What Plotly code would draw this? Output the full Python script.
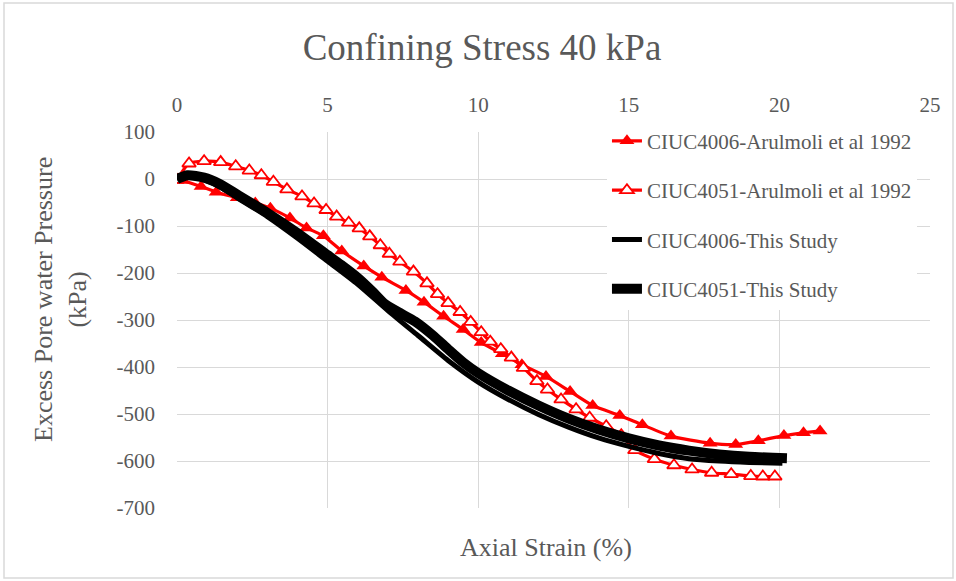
import plotly.graph_objects as go

# CIUC4006 - Arulmoli et al 1992 (filled triangles)
a4006_strain = [0.2, 0.8, 1.3, 2.0, 2.6, 3.1, 3.75, 4.3, 4.86, 5.47, 6.2, 6.8, 7.6, 8.2,
                8.85, 9.5, 10.1, 10.8, 11.45, 12.25, 13.05, 13.8, 14.7, 15.45, 16.4,
                17.7, 18.55, 19.3, 20.15, 20.8, 21.35]
a4006_pwp = [-3, -16, -28, -40, -51, -62, -83, -104, -121, -153, -185, -209, -237, -262,
             -292, -320, -348, -372, -395, -420, -452, -482, -503, -523, -547,
             -562, -565, -557, -546, -540, -536]

# CIUC4051 - Arulmoli et al 1992 (open triangles)
a4051_strain = [0.0, 0.4, 0.9, 1.45, 1.95, 2.4, 2.8, 3.2, 3.65, 4.15, 4.55, 4.95, 5.3, 5.7,
                6.05, 6.4, 6.75, 7.05, 7.4, 7.85, 8.3, 8.65, 9.0, 9.4, 9.75, 10.1, 10.4,
                10.75, 11.1, 11.5, 11.95, 12.3, 12.75, 13.25, 13.7, 14.25, 14.75, 15.2,
                15.85, 16.5, 17.1, 17.75, 18.4, 19.05, 19.45, 19.85]
a4051_pwp = [-2, 33, 38, 36, 27, 18, 8, -6, -22, -37, -52, -66, -80, -93,
             -105, -122, -141, -159, -176, -197, -222, -245, -264, -283, -304, -326, -346,
             -362, -380, -402, -430, -448, -469, -490, -508, -526, -545, -577,
             -596, -609, -618, -625, -628, -632, -633, -633]

# CIUC4006 - this study
s4006_strain = [0.0, 0.35, 0.9, 1.4, 2.0, 3.0, 4.0, 5.0, 6.0, 7.0, 8.0, 9.0, 10.0, 11.0,
                12.0, 13.0, 14.0, 15.0, 16.0, 17.0, 18.0, 19.0, 20.1]
s4006_pwp = [0, 5, -2, -16, -40, -80, -126, -175, -224, -280, -333, -386, -432, -469,
             -501, -528, -551, -569, -584, -595, -600, -603, -605]

# CIUC4051 - this study
s4051_strain = [0.0, 0.35, 0.9, 1.4, 2.0, 3.0, 4.0, 5.0, 5.5, 6.0, 6.5, 6.9, 7.4, 7.9,
                8.5, 9.0, 9.5, 10.0, 11.0, 12.0, 13.0, 14.0, 15.0, 16.0, 17.0, 18.0, 19.0,
                20.25]
s4051_pwp = [0, 8, 3, -10, -33, -72, -115, -162, -185, -210, -240, -266, -285, -303,
             -333, -362, -390, -413, -450, -482, -510, -533, -552, -567, -578, -586, -591,
             -594]

x_ticks = [0, 5, 10, 15, 20, 25]
y_ticks = [100, 0, -100, -200, -300, -400, -500, -600, -700]
y_tick_text = ["100", "0", "-100", "-200", "-300", "-400", "-500", "-600", "-700"]

FONT = "Liberation Serif"
TXT = "#595959"
GRID = "#d9d9d9"
RED = "#ff0000"

fig = go.Figure()

fig.add_trace(go.Scatter(
    x=a4006_strain, y=a4006_pwp, mode="lines+markers",
    name="CIUC4006-Arulmoli et al 1992", legendgroup="g1",
    line=dict(color=RED, width=3.2, shape="spline", smoothing=0.6),
    marker=dict(symbol="triangle-up", size=13, color=RED),
))
fig.add_trace(go.Scatter(
    x=a4051_strain, y=a4051_pwp, mode="lines+markers",
    name="CIUC4051-Arulmoli et al 1992", legendgroup="g2",
    line=dict(color=RED, width=3.2, shape="spline", smoothing=0.6),
    marker=dict(symbol="triangle-up", size=12, color="white",
                line=dict(color=RED, width=1.8)),
))
fig.add_trace(go.Scatter(
    x=s4006_strain, y=s4006_pwp, mode="lines",
    name="CIUC4006-This Study", legendgroup="g3",
    line=dict(color="black", width=5, shape="spline", smoothing=0.7),
))
fig.add_trace(go.Scatter(
    x=s4051_strain, y=s4051_pwp, mode="lines",
    name="CIUC4051-This Study", legendgroup="g4",
    line=dict(color="black", width=10, shape="spline", smoothing=0.6),
))

# plot area: x 177..930 px, y 132..508 px
fig.update_layout(
    width=956, height=581,
    margin=dict(l=177, r=26, t=132, b=73),
    paper_bgcolor="white", plot_bgcolor="white",
    font=dict(family=FONT, color=TXT, size=21),
    title=dict(text="Confining Stress 40 kPa", xref="container", yref="container",
               x=482 / 956, y=1 - 47 / 581, xanchor="center", yanchor="middle",
               font=dict(family=FONT, size=37, color=TXT)),
    xaxis=dict(range=[0, 25], tickvals=x_ticks, side="top", showgrid=True,
               gridcolor=GRID, gridwidth=1.3, zeroline=False, showline=False,
               ticks="", ticklabelstandoff=15,
               tickfont=dict(family=FONT, size=21, color=TXT)),
    yaxis=dict(range=[-700, 100], tickvals=y_ticks, ticktext=y_tick_text, showgrid=True,
               gridcolor=GRID, gridwidth=1.3, zeroline=False, showline=False,
               ticks="", ticklabelstandoff=21,
               tickfont=dict(family=FONT, size=21, color=TXT)),
    legend=dict(x=0.571, y=1.03, xanchor="left", yanchor="top",
                bgcolor="white", tracegroupgap=19,
                font=dict(family=FONT, size=21, color=TXT)),
    annotations=[
        dict(text="Axial Strain (%)", xref="paper", yref="paper",
             x=(546 - 177) / 753, y=(508 - 547) / 376, xanchor="center", yanchor="middle",
             showarrow=False, font=dict(family=FONT, size=26, color=TXT)),
        dict(text="Excess Pore water Pressure<br>(kPa)", xref="paper", yref="paper",
             x=(60 - 177) / 753, y=(508 - 300) / 376, xanchor="center", yanchor="middle",
             textangle=-90, showarrow=False,
             font=dict(family=FONT, size=26, color=TXT)),
    ],
    shapes=[
        # blank backdrop behind the legend
        dict(type="rect", xref="paper", yref="paper", x0=0.535, x1=1.02,
             y0=0.511, y1=1.03, fillcolor="white", line=dict(width=0), layer="between"),
        # chart border
        dict(type="rect", xref="paper", yref="paper",
             x0=(4 - 177) / 753, x1=(953 - 177) / 753,
             y0=(508 - 578) / 376, y1=(508 - 3) / 376,
             line=dict(color=GRID, width=1.5), fillcolor="rgba(0,0,0,0)"),
    ],
)

fig.write_html("out.html")
